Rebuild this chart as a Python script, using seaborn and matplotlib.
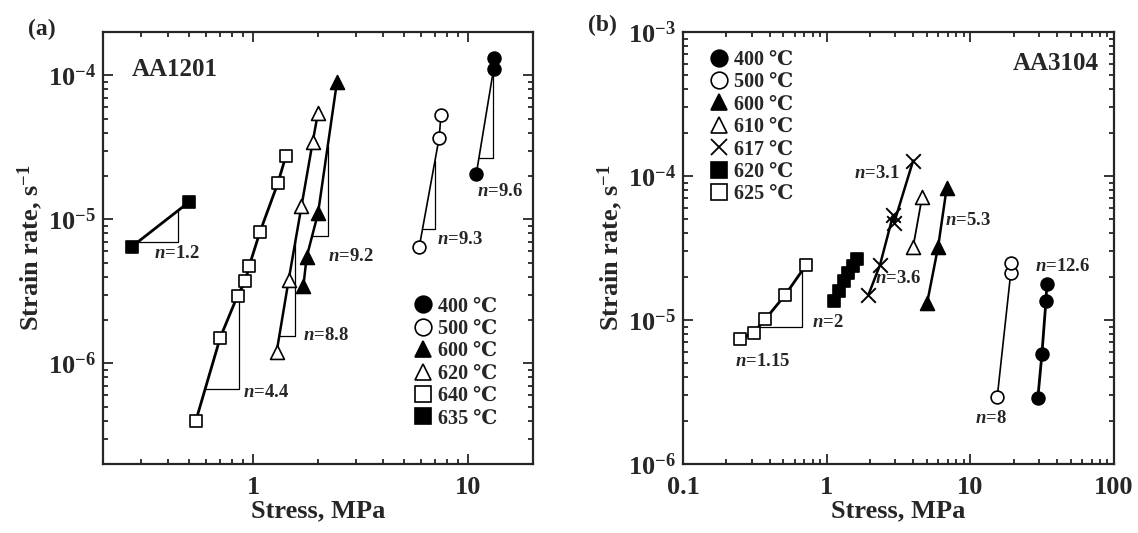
import numpy as np
import pandas as pd
import matplotlib
matplotlib.use("Agg")
import matplotlib.pyplot as plt
import seaborn as sns
from matplotlib.lines import Line2D
from matplotlib.ticker import LogLocator, FuncFormatter, NullFormatter

# ---------------- datos (a) AA1201 ----------------
a400_x = [10.9, 13.1, 13.2]
a400_y = [2.08e-5, 1.10e-4, 1.31e-4]
a500_x = [5.91, 7.32, 7.46]
a500_y = [6.4e-6, 3.69e-5, 5.3e-5]
a600_x = [1.71, 1.77, 2.00, 2.45]
a600_y = [3.44e-6, 5.45e-6, 1.10e-5, 9.0e-5]
a620_x = [1.284, 1.46, 1.675, 1.89, 2.00]
a620_y = [1.2e-6, 3.78e-6, 1.23e-5, 3.46e-5, 5.5e-5]
a640_x = [0.540, 0.702, 0.845, 0.918, 0.958, 1.075, 1.30, 1.42]
a640_y = [3.97e-7, 1.51e-6, 2.95e-6, 3.73e-6, 4.76e-6, 8.2e-6, 1.78e-5, 2.77e-5]
a635_x = [0.272, 0.503]
a635_y = [6.45e-6, 1.32e-5]

# ---------------- datos (b) AA3104 ----------------
b400_x = [29.5, 31.5, 33.6, 34.1]
b400_y = [2.86e-6, 5.8e-6, 1.36e-5, 1.78e-5]
b500_x = [15.4, 19.1, 19.3]
b500_y = [2.93e-6, 2.11e-5, 2.48e-5]
b600_x = [5.0, 5.97, 6.84]
b600_y = [1.31e-5, 3.23e-5, 8.22e-5]
b610_x = [4.0, 4.62]
b610_y = [3.23e-5, 7.18e-5]
b617_x = [1.95, 2.35, 2.90, 2.95, 4.0]
b617_y = [1.49e-5, 2.41e-5, 5.36e-5, 4.74e-5, 1.28e-4]
b620_x = [1.13, 1.225, 1.327, 1.415, 1.53, 1.63]
b620_y = [1.35e-5, 1.59e-5, 1.87e-5, 2.12e-5, 2.37e-5, 2.65e-5]
b625_x = [0.25, 0.31, 0.373, 0.514, 0.719]
b625_y = [7.35e-6, 8.17e-6, 1.01e-5, 1.49e-5, 2.41e-5]

# etiquetas
temps_a = ["400", "500", "600", "620", "640", "635"]
temps_b = ["400", "500", "600", "610", "617", "620", "625"]

# estilos de marcador: (marker, relleno)
estilo = {"400": ("o", "k"), "500": ("o", "w"), "600": ("^", "k"),
          "610": ("^", "w"), "620a": ("^", "w"), "617": ("x", "k"),
          "620b": ("s", "k"), "625": ("s", "w"), "640": ("s", "w"), "635": ("s", "k")}

# ---------------- estilo ----------------
sns.set_style("ticks")
plt.rcParams["font.family"] = ["Liberation Serif", "DejaVu Serif"]
plt.rcParams["font.weight"] = "bold"
plt.rcParams["mathtext.fontset"] = "custom"
plt.rcParams["mathtext.rm"] = "Liberation Serif:bold"
plt.rcParams["mathtext.bf"] = "Liberation Serif:bold"
plt.rcParams["mathtext.it"] = "Liberation Serif:italic:bold"
plt.rcParams["axes.linewidth"] = 1.6

fig = plt.figure(figsize=(11.38, 5.33), dpi=100)
axa = fig.add_axes([0.0905, 0.1295, 0.3779, 0.8105])
axb = fig.add_axes([0.6002, 0.1295, 0.3787, 0.8105])


def serie(ax, x, y, marker, face, lw=1.5, line=True, s=85):
    if line:
        sns.lineplot(x=x, y=y, ax=ax, color="k", lw=lw, estimator=None, zorder=2)
    if marker == "x":
        sns.scatterplot(x=x, y=y, ax=ax, marker="x", color="k", s=110,
                        linewidth=1.4, zorder=3)
    else:
        sns.scatterplot(x=x, y=y, ax=ax, marker=marker, color=face, edgecolor="k",
                        linewidth=1.2, s=s, zorder=3)


def triangulo(ax, x, y, xa, xb):
    # triangulo de pendiente apoyado en la recta de la serie
    lx, ly = np.log10(x), np.log10(y)
    ya = 10 ** np.interp(np.log10(xa), lx, ly)
    yb = 10 ** np.interp(np.log10(xb), lx, ly)
    ax.plot([xa, xb, xb], [ya, ya, yb], color="k", lw=0.9, zorder=1)


def ejes(ax, xlim, ylim):
    ax.set_xscale("log")
    ax.set_yscale("log")
    ax.set_xlim(*xlim)
    ax.set_ylim(*ylim)
    for eje in (ax.xaxis, ax.yaxis):
        eje.set_major_locator(LogLocator(base=10, subs=(1.0,)))
        eje.set_minor_locator(LogLocator(base=10, subs=np.arange(2, 10)))
        eje.set_minor_formatter(NullFormatter())
    ax.xaxis.set_major_formatter(FuncFormatter(lambda v, p: "%g" % v))
    ax.yaxis.set_major_formatter(
        FuncFormatter(lambda v, p: r"$\mathbf{10^{%d}}$" % round(np.log10(v))))
    ax.tick_params(which="both", direction="in", top=True, right=True, width=1.3)
    ax.tick_params(which="major", length=7, labelsize=19)
    ax.tick_params(which="minor", length=3.5)
    ax.tick_params(axis="x", pad=9)
    ax.tick_params(axis="y", pad=5)
    ax.set_xlabel("Stress, MPa", fontsize=19, fontweight="bold", labelpad=0)
    ax.set_ylabel(r"Strain rate, s$^{\mathbf{-1}}$", fontsize=19, fontweight="bold",
                  labelpad=2)


def leyenda(ax, temps, claves, anchor):
    hs = []
    for t, k in zip(temps, claves):
        m, f = estilo[k]
        if m == "x":
            hs.append(Line2D([], [], marker="x", ls="none", color="k", ms=11, mew=1.3))
        else:
            hs.append(Line2D([], [], marker=m, ls="none", mfc=f, mec="k", ms=12, mew=1.2))
    labels = [t + " \u2103" for t in temps]
    ax.legend(hs, labels, loc="upper left", bbox_to_anchor=anchor, frameon=False,
              borderpad=0, borderaxespad=0, handlelength=0.8, handletextpad=0.35,
              labelspacing=0.12, prop={"size": 14.5, "weight": "bold"})


def etiqueta(ax, txt, x, y, ha="left"):
    ax.text(x, y, r"$\mathit{n}$=" + txt, fontsize=13.5, fontweight="bold",
            ha=ha, va="center", zorder=4)


# ---------------- (a) ----------------
ejes(axa, (0.2, 20), (2e-7, 2e-4))
serie(axa, a635_x, a635_y, "s", "k", lw=2.0)
serie(axa, a640_x, a640_y, "s", "w", lw=2.0)
serie(axa, a620_x, a620_y, "^", "w", lw=1.8, s=100)
serie(axa, a600_x, a600_y, "^", "k", lw=1.8, s=100)
serie(axa, a500_x, a500_y, "o", "w", lw=1.2)
serie(axa, a400_x, a400_y, "o", "k", lw=1.2)

triangulo(axa, a635_x, a635_y, 0.29, 0.448)
triangulo(axa, a640_x, a640_y, 0.597, 0.854)
triangulo(axa, a620_x, a620_y, 1.32, 1.57)
triangulo(axa, a600_x, a600_y, 1.88, 2.22)
triangulo(axa, a500_x, a500_y, 6.13, 6.99)
triangulo(axa, a400_x, a400_y, 11.2, 13.0)

etiqueta(axa, "1.2", 0.347, 5.83e-6)
etiqueta(axa, "4.4", 0.892, 6.25e-7)
etiqueta(axa, "8.8", 1.70, 1.57e-6)
etiqueta(axa, "9.2", 2.23, 5.5e-6)
etiqueta(axa, "9.3", 7.14, 7.3e-6)
etiqueta(axa, "9.6", 10.98, 1.55e-5)

axa.text(0.067, 0.912, "AA1201", transform=axa.transAxes, fontsize=18,
         fontweight="bold", ha="left", va="center")
leyenda(axa, temps_a, ["400", "500", "600", "620a", "640", "635"], (0.725, 0.388))

# ---------------- (b) ----------------
ejes(axb, (0.1, 100), (1e-6, 1e-3))
serie(axb, b625_x, b625_y, "s", "w", lw=2.0)
serie(axb, b620_x, b620_y, "s", "k", line=False)
serie(axb, b617_x, b617_y, "x", "k", lw=1.8)
serie(axb, b610_x, b610_y, "^", "w", lw=1.3, s=100)
serie(axb, b600_x, b600_y, "^", "k", lw=1.8, s=100)
serie(axb, b500_x, b500_y, "o", "w", lw=1.2)
serie(axb, b400_x, b400_y, "o", "k", lw=2.0)

triangulo(axb, b625_x, b625_y, 0.336, 0.678)

etiqueta(axb, "1.15", 0.229, 5.13e-6)
etiqueta(axb, "2", 0.787, 9.57e-6)
etiqueta(axb, "3.1", 3.23, 1.045e-4, ha="right")
etiqueta(axb, "3.6", 2.17, 1.95e-5)
etiqueta(axb, "5.3", 6.65, 4.94e-5)
etiqueta(axb, "8", 10.73, 2.07e-6)
etiqueta(axb, "12.6", 28.1, 2.37e-5)

axb.text(0.965, 0.9275, "AA3104", transform=axb.transAxes, fontsize=18,
         fontweight="bold", ha="right", va="center")
leyenda(axb, temps_b, ["400", "500", "600", "610", "617", "620b", "625"], (0.064, 0.959))

fig.text(0.025, 0.944, "(a)", fontsize=17, fontweight="bold", ha="left", va="center")
fig.text(0.5167, 0.953, "(b)", fontsize=17, fontweight="bold", ha="left", va="center")

fig.savefig("out.png", dpi=100)
